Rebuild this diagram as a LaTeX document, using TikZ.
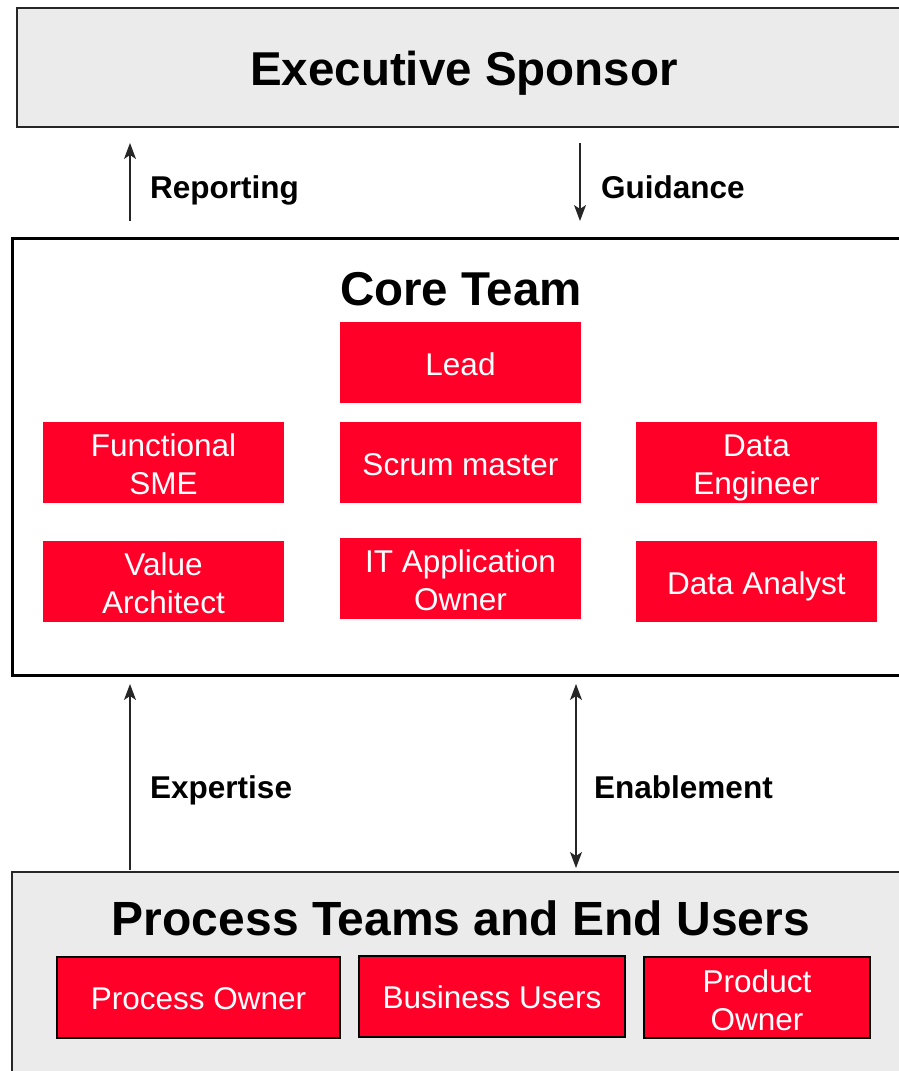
\documentclass[tikz,border=0pt]{standalone}
\usepackage{fontspec}
\setmainfont{Liberation Sans}
\usetikzlibrary{arrows.meta}
\definecolor{teamred}{RGB}{255,0,40}
\definecolor{panelgray}{RGB}{235,235,235}

\begin{document}
\begin{tikzpicture}[x=1pt,y=-1pt,
    panel/.style={draw=black!85,fill=panelgray,line width=1.5pt,anchor=north west,inner sep=0pt},
    title/.style={font=\fontsize{47.5}{56}\selectfont\bfseries,anchor=base,inner sep=0pt},
    flowlabel/.style={font=\fontsize{31.5}{38}\selectfont\bfseries,anchor=base west,inner sep=0pt},
    role/.style={fill=teamred,minimum width=241pt,minimum height=81pt,inner sep=0pt},
    rolename/.style={text=white,align=center,inner sep=0pt,yshift=-2pt,
        font=\fontsize{31.5}{38}\selectfont},
    flow/.style={line width=1.2pt,black!85,-{Stealth[length=16pt,width=12pt,inset=4pt]}}]
\useasboundingbox (0,0) rectangle (899,1071);
\clip (0,0) rectangle (899,1071);

% containers
\node[panel,minimum width=950pt,minimum height=119pt] (exec) at (16,7) {};
\node[panel,fill=white,draw=black,line width=3pt,minimum width=950pt,minimum height=437pt] (core) at (11,237) {};
\node[panel,minimum width=950pt,minimum height=250pt] (proc) at (11,871) {};

\node[title] (exectitle) at (464,85) {Executive Sponsor};
\node[title] (coretitle) at (461,305) {Core Team};
\node[title,font=\fontsize{48}{56}\selectfont\bfseries] (proctitle) at (461,935) {Process Teams and End Users};

% core team roles
\begin{scope}[every node/.style={role}]
\node[label={[rolename]center:Lead}] (lead) at (460.5,362.5) {};
\node[label={[rolename]center:{Functional\\SME}}] (sme) at (163.5,462.5) {};
\node[label={[rolename]center:Scrum master}] (scrum) at (460.5,462.5) {};
\node[label={[rolename,yshift=-3pt]center:{Data\\Engineer}}] (engineer) at (756.5,462.5) {};
\node[label={[rolename]center:{Value\\Architect}}] (architect) at (163.5,581.5) {};
\node[label={[rolename]center:{IT Application\\Owner}}] (itowner) at (460.5,578.5) {};
\node[label={[rolename,yshift=-3pt]center:Data Analyst}] (analyst) at (756.5,581.5) {};
\end{scope}

% process roles
\begin{scope}[every node/.style={role,draw=black,line width=1.5pt}]
\node[minimum width=283pt,label={[rolename,yshift=1pt]center:Process Owner}] (procowner) at (198.5,997.5) {};
\node[minimum width=266pt,label={[rolename,yshift=1pt]center:Business Users}] (bizusers) at (492,996.5) {};
\node[minimum width=226pt,label={[rolename,yshift=-1pt]center:{Product\\Owner}}] (prodowner) at (757,997.5) {};
\end{scope}

% flows
\coordinate (rep-a) at (130,221);
\coordinate (rep-b) at (130,143);
\coordinate (gui-a) at (580,143);
\coordinate (gui-b) at (580,221);
\coordinate (exp-a) at (130,870);
\coordinate (exp-b) at (130,684);
\coordinate (ena-a) at (576,684);
\coordinate (ena-b) at (576,868);

\draw[flow] (rep-a) -- (rep-b);
\draw[flow] (gui-a) -- (gui-b);
\draw[flow] (exp-a) -- (exp-b);
\draw[flow,{Stealth[length=16pt,width=12pt,inset=4pt]}-{Stealth[length=16pt,width=12pt,inset=4pt]}] (ena-a) -- (ena-b);

\node[flowlabel] (reporting) at (150,198) {Reporting};
\node[flowlabel] (guidance) at (601,198) {Guidance};
\node[flowlabel] (expertise) at (150,798) {Expertise};
\node[flowlabel] (enablement) at (594,798) {Enablement};
\end{tikzpicture}
\end{document}
